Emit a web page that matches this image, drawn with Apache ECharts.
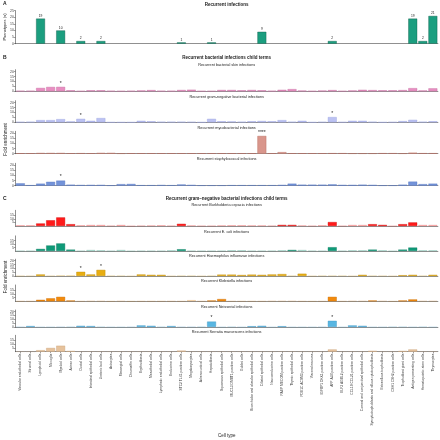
<!DOCTYPE html>
<html><head><meta charset="utf-8">
<script src="https://cdn.jsdelivr.net/npm/echarts@6/dist/echarts.min.js"></script>
<style>html,body{margin:0;padding:0;background:#fff}#c{width:440px;height:440px}</style>
</head><body><div id="c"></div>
<script>
const categories = ["Vascular endothelial cells","Stromal cells","Lymphoid cells","Microglia","Myeloid cells","Acinar cells","Ductal cells","Intestinal epithelial cells","Ureteric bud cells","Astrocytes","Mesangial cells","Chromaffin cells","Erythroblasts","Mesothelial cells","Lymphatic endothelial cells","Endocrine cells","STC2 TLX1 positive cells","Megakaryocytes","Adrenocortical cells","Hepatoblasts","Squamous epithelial cells","MUC13 DMBT1 positive cells","Goblet cells","Bronchiolar and alveolar epithelial cells","Ciliated epithelial cells","Neuroendocrine cells","PAEP MECOM positive cells","Thymic epithelial cells","PDE1C ACSM3 positive cells","Visceral neurons","IGFBP1 DKK1 positive cells","AFP ALB positive cells","ELF3 AGBL2 positive cells","CCL19 CCL21 positive cells","Corneal and conjunctival epithelial cells","Syncytiotrophoblasts and villous cytotrophoblasts","Extravillous trophoblasts","CSH1 CSH2 positive cells","Trophoblast giant cells","Antigen presenting cells","Hematopoietic stem cells","Thymocytes"];

const phenotypes = [null,null,19,null,10,null,2,null,2,null,null,null,null,null,null,null,1,null,null,1,null,null,null,null,9,null,null,null,null,null,null,2,null,null,null,null,null,null,null,19,2,21];

const skin = [0.5,0.5,3.4,4.4,4.5,1,0.3,1,1,0.5,0.3,0.5,0.8,1.2,0.5,0.5,1.3,1.6,0.3,0.3,1.3,1.3,1,1.3,1,0.5,1.5,2.2,0.7,0.3,0.7,1.2,0.3,0.8,1.5,1.2,1,1,1.2,3.2,0.8,3];
const gramNeg = [0.3,0.5,2.2,2.2,3.2,0.8,3.5,1.5,4.3,0,0,0,1.5,1,0.5,0.5,0.5,0.3,0,3.5,1,0.8,0.5,1,1.3,1,2.2,0.5,1.5,0,0.3,5.3,0.2,1.5,1.5,0.5,0,0.2,1.2,2.5,0.5,1];
const myco = [0.4,0.4,0.7,0.7,0.7,0.4,0.5,0.4,0.8,0.8,0.3,0.4,0.4,0.4,0.4,0.4,0.4,0.4,0.4,0.4,0.4,0.4,0.4,0.4,17.4,0.4,1.5,0.4,0.4,0.4,0.4,0.5,0.5,0.3,0.3,0.3,0.5,0.5,0.3,1,0.5,0.5];
const staph = [2.3,0.5,2,3.8,5,1,0.7,0.8,0.8,0.3,1.5,1.7,0.5,0.5,0.7,0.5,1.2,0.8,0.3,0.3,0.3,0.5,0.5,0.5,0.5,0.5,0.8,2,1,1,1,1.3,0.8,0.8,1,0.8,0.3,0.3,1,4,1.5,2];

const burkholderia = [1,1,3.5,8,12,2.5,1,1.5,1.5,0.5,1.5,0,0.5,0.7,1,0.5,3,0.8,0.3,0.3,0.8,1,1,0.8,0.8,0.5,1.5,1.5,0.8,0.3,1,5.5,0.2,1.5,1.5,2.5,1.5,0,2.5,5,1.5,1.5];
const ecoli = [0.3,0.3,3,8,11,2,0.3,1.5,1,0.2,1.5,0,0.3,0.3,0.3,1,2.5,0.5,0.2,0.2,0.3,1,1,0.3,0.3,0.5,1,1.5,1.5,0.5,0.2,5.5,0.3,1,1,2,1,0,2,5,1,1];
const haemophilus = [0.2,0.2,2,0.3,0.8,0.8,5.5,2,8,0.5,0.5,0,2,1.5,1.5,0,0.5,0.5,0,0.5,1.8,1.8,1.3,1.8,1.5,2,2.5,0.5,3,0,0.5,0.5,0.5,0,1.5,0.5,0.3,0,1,1.5,0.5,1.5];
const klebsiella = [0.3,0.3,2,4,6,1,0.2,0.5,0.5,0,0.5,0,0.2,0.2,0.2,0.3,0.2,1.5,0.3,1,3,0.3,0.2,0.2,0.2,0.5,0.5,0.5,0.2,0,0.2,6,0.2,0.5,0.5,1,0.5,0,1,2.5,0.5,0.5];
const neisserial = [0.2,1.2,0,0,0.2,0.5,1.5,1.2,0.5,0,0,0.2,2,1.5,0.5,1.2,0.2,0.2,0.5,7,0,0.5,0,1,1.5,0,1,0,0,0,0.2,8,0,2,1.5,0,0,0.5,0.5,0,0.5,0];
const serratia = [0,0,2,5,8,1,0,0.3,0.2,0,0,0,0,0,0,0,1.5,0,0,0,0,0,0,0,0,0,0.3,0.3,0,0,0,3,0,0.2,0.2,1.2,0,0,1,3,0.2,0.2];

const skinStars = ["","","","","*","","","","","","","","","","","","","","","","","","","","","","","","","","","","","","","","","","","","",""];
const gramNegStars = ["","","","","","","*","","","","","","","","","","","","","","","","","","","","","","","","","*","","","","","","","","","",""];
const mycoStars = ["","","","","","","","","","","","","","","","","","","","","","","","","****","","","","","","","","","","","","","","","","",""];
const staphStars = ["","","","","*","","","","","","","","","","","","","","","","","","","","","","","","","","","","","","","","","","","","",""];
const haemophilusStars = ["","","","","","","*","","*","","","","","","","","","","","","","","","","","","","","","","","","","","","","","","","","",""];
const neisserialStars = ["","","","","","","","","","","","","","","","","","","","*","","","","","","","","","","","","*","","","","","","","","","",""];

const burkholderiaNominal = [0,0,1,1,1,1,0,0,0,0,0,0,0,0,0,0,1,0,0,0,0,0,0,0,0,0,1,1,0,0,0,1,0,0,0,1,1,0,1,1,0,0];
const ecoliNominal = [0,0,1,1,1,1,0,0,0,0,0,0,0,0,0,0,1,0,0,0,0,0,0,0,0,0,0,1,0,0,0,1,0,0,0,1,0,0,1,1,0,0];
const haemophilusNominal = [0,0,1,0,0,0,1,1,1,0,0,0,1,1,1,0,0,0,0,0,1,1,1,1,1,1,1,0,1,0,0,0,0,0,1,0,0,0,1,1,0,1];
const klebsiellaNominal = [0,0,1,1,1,1,0,0,0,0,0,0,0,0,0,0,0,0,0,1,1,0,0,0,0,0,0,0,0,0,0,1,0,0,0,1,0,0,1,1,0,0];
const neisserialNominal = [0,1,0,0,0,0,1,1,0,0,0,0,1,1,0,1,0,0,0,1,0,0,0,1,1,0,1,0,0,0,0,1,0,1,1,0,0,0,0,0,0,0];
const serratiaNominal = [0,0,1,1,1,1,0,0,0,0,0,0,0,0,0,0,1,0,0,0,0,0,0,0,0,0,0,0,0,0,0,1,0,0,0,1,0,0,1,1,0,0];

const panelTitles = ["Recurrent infections","Recurrent bacterial infections child terms","Recurrent gram\u2013negative bacterial infections child terms"];
const subTitlesB = ["Recurrent bacterial skin infections","Recurrent gram-negative bacterial infections","Recurrent mycobacterial infections","Recurrent staphylococcal infections"];
const subTitlesC = ["Recurrent Burkholderia cepacia infections","Recurrent E. coli infections","Recurrent Haemophilus influenzae infections","Recurrent Klebsiella infections","Recurrent Neisserial infections","Recurrent Serratia marcescens infections"];
const countTicks = [0,5,10,15,20,25];
const foldTicks = [0,5,10,15,20];

const L = 15.4, W = 422.5;
const panels = [
  {vals: phenotypes, color:'#1b9e7f', border:'#0f5c49', top:10.7, y0:43.7, max:25, ticks:countTicks, labels:true},
  {vals: skin, color:'#e88fc2', border:'#c56a9e', top:69.7, y0:91.3, max:22, ticks:foldTicks, stars:skinStars},
  {vals: gramNeg, color:'#bcc2f2', border:'#9aa2e0', top:100.7, y0:122.3, max:22, ticks:foldTicks, stars:gramNegStars},
  {vals: myco, color:'#d9968c', border:'#b56458', top:131.3, y0:153.7, max:22, ticks:foldTicks, stars:mycoStars},
  {vals: staph, color:'#7393d9', border:'#5373c0', top:163.3, y0:185.7, max:22, ticks:foldTicks, stars:staphStars},
  {vals: burkholderia, color:'#ff1a1a', border:'#d00000', top:210.3, y0:226, max:22, ticks:foldTicks, nominal:burkholderiaNominal},
  {vals: ecoli, color:'#0f9a78', border:'#0a7a5e', top:235.9, y0:251, max:22, ticks:foldTicks, nominal:ecoliNominal},
  {vals: haemophilus, color:'#e8ae12', border:'#c08a00', top:259.2, y0:276, max:22, ticks:foldTicks, stars:haemophilusStars, nominal:haemophilusNominal},
  {vals: klebsiella, color:'#f28a0c', border:'#c86a00', top:285, y0:301.3, max:22, ticks:foldTicks, nominal:klebsiellaNominal},
  {vals: neisserial, color:'#58b6e2', border:'#3a95c2', top:310, y0:327, max:22, ticks:foldTicks, stars:neisserialStars, nominal:neisserialNominal},
  {vals: serratia, color:'#e6c29c', border:'#c9a27a', top:335.3, y0:351.7, max:22, ticks:foldTicks, nominal:serratiaNominal}
];

const grid=[], xAxis=[], yAxis=[], series=[];
panels.forEach((p,i)=>{
  const last = i===panels.length-1;
  grid.push({left:L, width:W, top:p.top, height:p.y0-p.top});
  xAxis.push({type:'category', gridIndex:i, data:categories,
    axisLine:{lineStyle:{color:'#444', width:0.6}},
    axisTick:{show:last, length:1.5, lineStyle:{color:'#444', width:0.5}, alignWithLabel:true},
    axisLabel:{show:last, interval:0, rotate:90, fontSize:3.3, color:'#333', margin:2, fontFamily:'Liberation Sans'}});
  yAxis.push({type:'value', gridIndex:i, min:0, max:p.max,
    axisLine:{show:true, lineStyle:{color:'#444', width:0.6}},
    axisTick:{show:true, length:1.5, lineStyle:{color:'#444', width:0.5}, customValues:p.ticks},
    axisLabel:{fontSize:3.5, color:'#444', margin:1.5, customValues:p.ticks, fontFamily:'Liberation Sans'},
    splitLine:{show:false}});
  const data = p.vals.map((v,k)=>{
    const o = {value:v};
    if (p.nominal && !p.nominal[k]) o.itemStyle = {opacity:0.35};
    return o;
  });
  series.push({type:'bar', xAxisIndex:i, yAxisIndex:i, data, barCategoryGap:'12%',
    itemStyle:{color:p.color, borderColor:p.border, borderWidth:0.4},
    label:{show:true, position:'top', distance:1, fontSize:p.labels?3.3:5, color:'#222', fontFamily:'Liberation Sans',
      formatter: pr => p.labels ? (pr.value==null?'':String(pr.value)) : (p.stars ? p.stars[pr.dataIndex] : '')},
    silent:true, animation:false});
});

const cx = L + W/2;
const txt = (x,y,t,opt={}) => ({type:'text', x, y, style:Object.assign({text:t, fill:'#222', fontSize:3.8, fontFamily:'Liberation Sans', textAlign:'center', textVerticalAlign:'middle'}, opt)});
const graphic = [
  txt(3,3.5,'A',{fontSize:5, fontWeight:'bold', textAlign:'left'}),
  txt(cx,4.3,panelTitles[0],{fontSize:4.5, fontWeight:'bold'}),
  txt(3,57.5,'B',{fontSize:5, fontWeight:'bold', textAlign:'left'}),
  txt(cx,57.5,panelTitles[1],{fontSize:4.5, fontWeight:'bold'}),
  txt(3,199,'C',{fontSize:5, fontWeight:'bold', textAlign:'left'}),
  txt(cx,199,panelTitles[2],{fontSize:4.5, fontWeight:'bold'}),
  txt(cx,436,'Cell type',{fontSize:4.5}),
  {type:'text', x:5, y:27, rotation:Math.PI/2, style:{text:'Phenotypes (n)', fill:'#222', fontSize:4, fontFamily:'Liberation Sans', textAlign:'center', textVerticalAlign:'middle'}},
  {type:'text', x:6, y:139.5, rotation:Math.PI/2, style:{text:'Fold enrichment', fill:'#222', fontSize:4.5, fontFamily:'Liberation Sans', textAlign:'center', textVerticalAlign:'middle'}},
  {type:'text', x:6, y:277, rotation:Math.PI/2, style:{text:'Fold enrichment', fill:'#222', fontSize:4.5, fontFamily:'Liberation Sans', textAlign:'center', textVerticalAlign:'middle'}}
];
[65.3,96.7,127.7,159.3].forEach((y,k)=>graphic.push(txt(cx,y,subTitlesB[k])));
[205.3,231.7,256,281.3,306.7,331.7].forEach((y,k)=>graphic.push(txt(cx,y,subTitlesC[k])));

const chart = echarts.init(document.getElementById('c'), null, {renderer:'canvas'});
chart.setOption({animation:false, backgroundColor:'#fff', grid, xAxis, yAxis, series, graphic});
</script></body></html>
